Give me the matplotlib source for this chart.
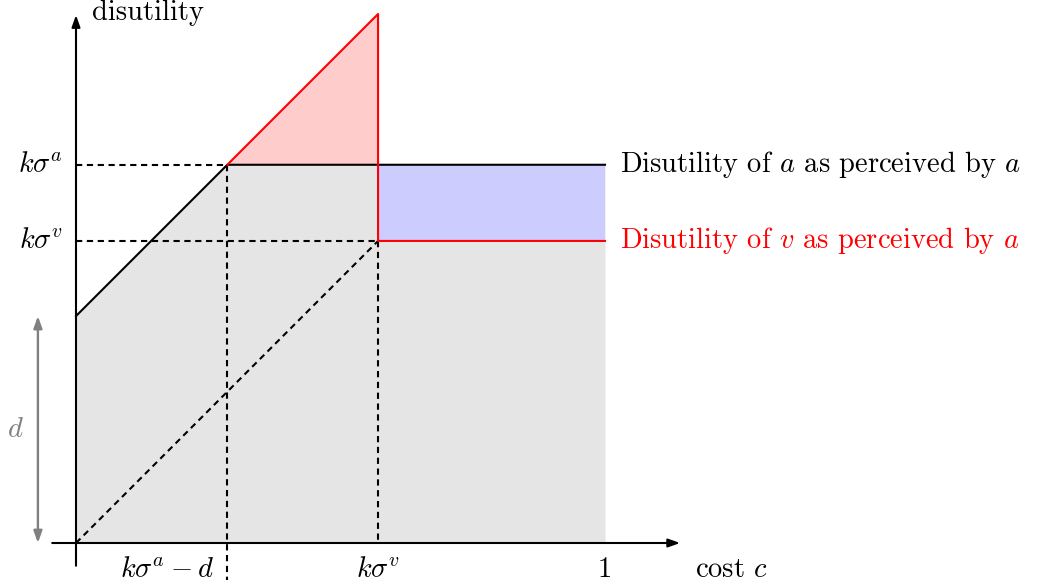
import numpy as np
import matplotlib.pyplot as plt

plt.rcParams['font.family'] = 'serif'
plt.rcParams['font.serif'] = ['cmr10']
plt.rcParams['mathtext.fontset'] = 'cm'
plt.rcParams['axes.unicode_minus'] = False

# parameters of the diagram (in units of the cost axis, 1 = full cost)
d = 0.429
k_sig_a = 0.715
k_sig_v = 0.571

# perceived disutility curves
black_x = [0, k_sig_a - d, 1]
black_y = [d, k_sig_a, k_sig_a]
red_x = [k_sig_a - d, k_sig_v, k_sig_v, 1]
red_y = [k_sig_a, k_sig_v + d, k_sig_v, k_sig_v]

xtick_pos = [k_sig_v, 1]
xtick_lab = [r'$k\sigma^v$', '1']
ytick_pos = [k_sig_a, k_sig_v]
ytick_lab = [r'$k\sigma^a$', r'$k\sigma^v$']

fig = plt.figure(figsize=(10.37, 5.87), dpi=100)
ax = fig.add_axes([0, 0, 1, 1])
ax.set_xlim(-76 / 529, (1037 - 76) / 529)
ax.set_ylim((543 - 587) / 529, 543 / 529)
ax.axis('off')

fs = 20.5
lw = 1.5
dash = (0, (3, 2.2))

# fills
ax.fill_between(black_x, 0, black_y, color='#e5e5e5', lw=0, zorder=1)
ax.fill_between([k_sig_v, 1], k_sig_v, k_sig_a, color='#ccccff', lw=0, zorder=2)
ax.fill([k_sig_a - d, k_sig_v, k_sig_v], [k_sig_a, k_sig_v + d, k_sig_a],
        color='#ffcccc', lw=0, zorder=2)

# dashed guides
ax.plot([0, k_sig_a - d], [k_sig_a, k_sig_a], 'k', ls=dash, lw=lw, zorder=3)
ax.plot([0, k_sig_v], [k_sig_v, k_sig_v], 'k', ls=dash, lw=lw, zorder=3)
ax.plot([k_sig_a - d, k_sig_a - d], [k_sig_a, -0.07], 'k', ls=dash, lw=lw, zorder=3)
ax.plot([k_sig_v, k_sig_v], [k_sig_v, 0], 'k', ls=dash, lw=lw, zorder=3)
ax.plot([0, k_sig_v], [0, k_sig_v], 'k', ls=dash, lw=lw, zorder=3)

# curves
ax.plot(black_x, black_y, color='black', lw=lw, zorder=4)
ax.plot(red_x, red_y, color='red', lw=lw, zorder=5)

# axes with arrows
ax.annotate('', xy=(1.142, 0), xytext=(-0.045, 0),
            arrowprops=dict(arrowstyle='-|>,head_length=0.7,head_width=0.25',
                            color='black', lw=lw, shrinkA=0, shrinkB=0), zorder=6)
ax.annotate('', xy=(0, 0.998), xytext=(0, -0.043),
            arrowprops=dict(arrowstyle='-|>,head_length=0.7,head_width=0.25',
                            color='black', lw=lw, shrinkA=0, shrinkB=0), zorder=6)

# d brace arrow
ax.annotate('', xy=(-0.072, d), xytext=(-0.072, 0),
            arrowprops=dict(arrowstyle='<|-|>,head_length=0.7,head_width=0.25',
                            color='gray', lw=1.7, shrinkA=0, shrinkB=0), zorder=6)
ax.text(-0.115, d / 2, r'$d$', color='gray', fontsize=fs, ha='center', va='center')

# labels
ax.text(0.030, 1.003, 'disutility', fontsize=fs, ha='left', va='center')
ax.text(1.170, -0.051, r'cost $c$', fontsize=fs, ha='left', va='center')
for p, lab in zip(ytick_pos, ytick_lab):
    ax.text(-0.024, p, lab, fontsize=fs, ha='right', va='center')
for p, lab in zip(xtick_pos, xtick_lab):
    ax.text(p, -0.051, lab, fontsize=fs, ha='center', va='center')
ax.text(k_sig_a - d - 0.025, -0.051, r'$k\sigma^a - d$', fontsize=fs, ha='right', va='center')

ax.text(1.028, k_sig_a, r'Disutility of $a$ as perceived by $a$', fontsize=fs,
        ha='left', va='center', color='black')
ax.text(1.028, k_sig_v, r'Disutility of $v$ as perceived by $a$', fontsize=fs,
        ha='left', va='center', color='red')

fig.savefig('out.png', dpi=100)
